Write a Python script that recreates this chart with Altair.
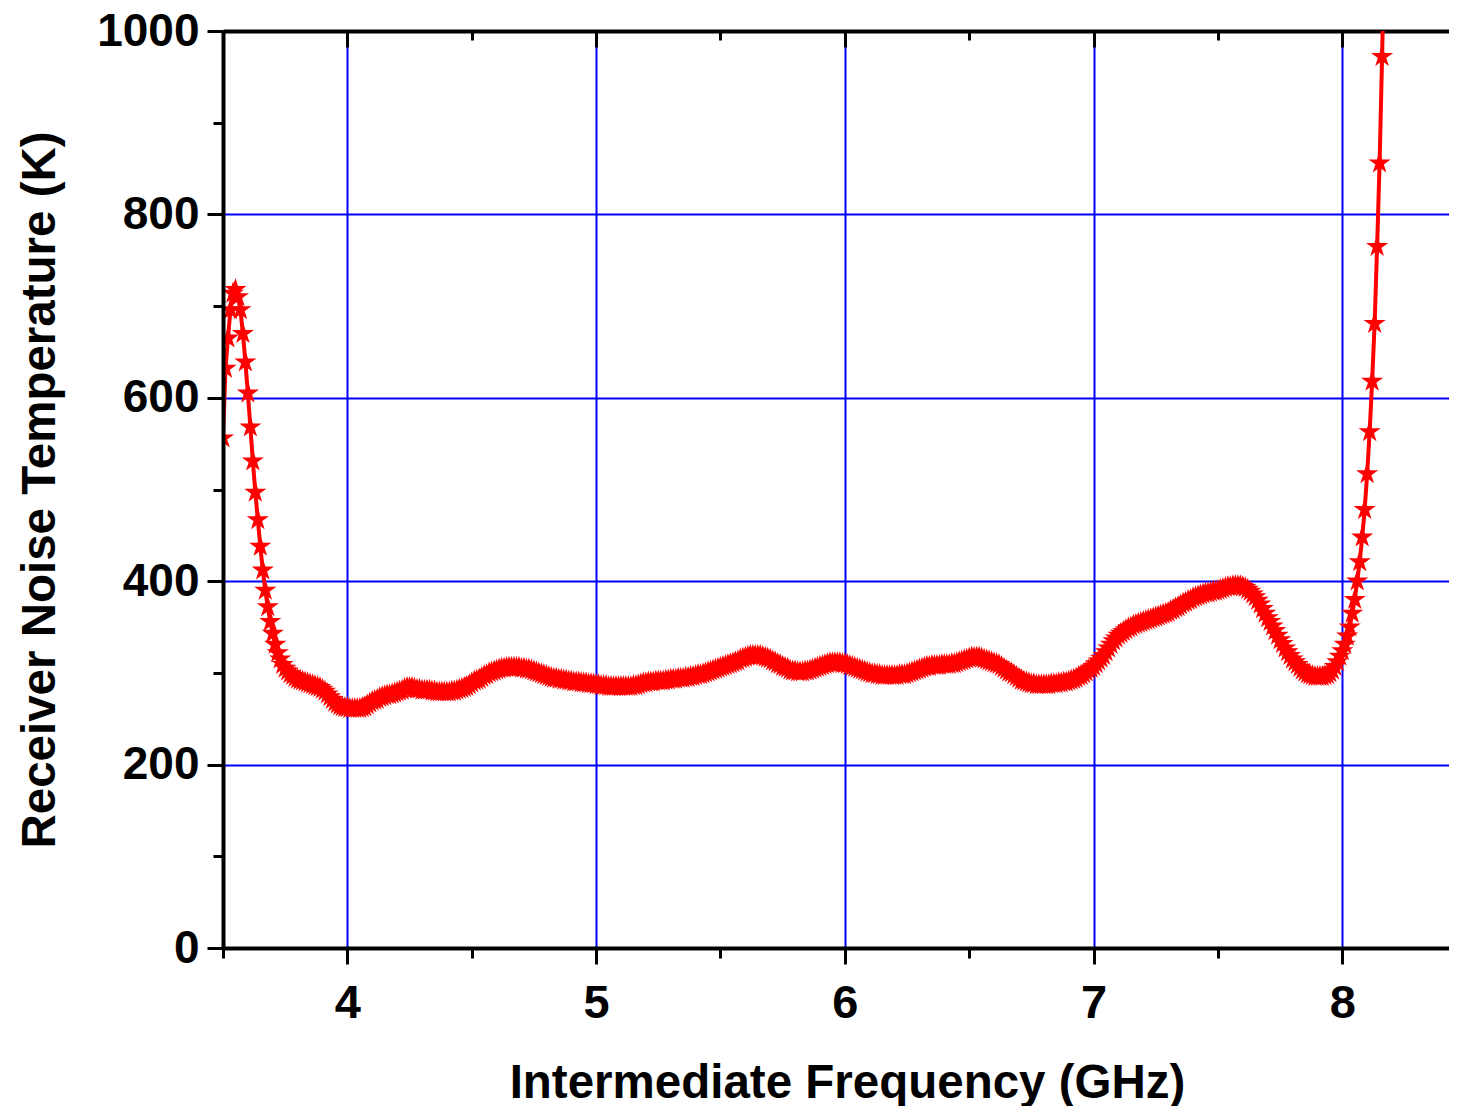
import altair as alt
import pandas as pd

# Sampling grid of the measurement (GHz)
F_START = 3.50
F_STEP = 0.01

# Receiver noise temperature (K), one value per 0.01 GHz
T_350 = [556, 632, 665, 696, 714, 718, 710, 696, 670, 639,
         605, 568, 531, 497, 467, 438, 412, 390, 372, 356,
         343, 331, 322, 315, 309, 305, 302, 299, 297, 295,
         293, 292, 291, 290, 289, 288, 287, 286, 285, 284,
         282, 280, 277, 274, 271, 268, 266, 264, 263, 262]
T_400 = [262, 261, 261, 261, 261, 261, 262, 263, 265, 267,
         269, 270, 271, 273, 274, 275, 276, 276, 277, 278,
         279, 280, 281, 283, 284, 284, 284, 283, 282, 282,
         281, 281, 281, 281, 280, 280, 279, 279, 279, 279,
         279, 279, 280, 280, 281, 282, 283, 284, 285, 287]
T_450 = [289, 291, 292, 293, 295, 297, 298, 300, 301, 302,
         303, 304, 305, 305, 306, 306, 306, 306, 306, 306,
         305, 305, 304, 304, 303, 302, 301, 300, 299, 298,
         297, 296, 295, 294, 294, 293, 293, 292, 292, 291,
         291, 290, 290, 290, 289, 289, 289, 288, 288, 288]
T_500 = [287, 287, 286, 286, 286, 285, 285, 285, 285, 285,
         285, 285, 285, 285, 285, 286, 286, 287, 288, 289,
         289, 290, 290, 290, 291, 291, 291, 291, 292, 292,
         293, 293, 293, 294, 294, 294, 295, 295, 296, 296,
         297, 298, 298, 299, 300, 301, 302, 303, 304, 305]
T_550 = [306, 307, 308, 309, 310, 311, 312, 313, 315, 316,
         317, 318, 319, 319, 319, 319, 319, 318, 317, 316,
         315, 313, 312, 310, 309, 307, 306, 305, 303, 302,
         302, 301, 301, 301, 302, 302, 303, 304, 305, 306,
         307, 308, 309, 310, 311, 311, 311, 311, 311, 310]
T_600 = [310, 309, 308, 307, 306, 305, 304, 303, 302, 301,
         300, 299, 299, 298, 298, 297, 297, 297, 297, 297,
         297, 297, 298, 298, 298, 299, 300, 301, 302, 303,
         304, 305, 306, 307, 307, 308, 308, 308, 308, 309,
         309, 309, 309, 310, 310, 311, 312, 313, 314, 315]
T_650 = [316, 317, 317, 317, 317, 316, 315, 314, 313, 312,
         311, 310, 309, 307, 305, 303, 301, 300, 298, 296,
         294, 292, 291, 290, 289, 288, 288, 287, 287, 287,
         287, 287, 287, 288, 288, 288, 289, 289, 290, 290,
         291, 292, 293, 294, 296, 297, 299, 301, 303, 305]
T_700 = [307, 310, 313, 316, 319, 323, 327, 331, 335, 338,
         341, 343, 345, 347, 349, 350, 352, 353, 354, 355,
         356, 357, 358, 359, 360, 361, 362, 363, 364, 365,
         366, 368, 369, 371, 372, 374, 376, 377, 379, 380,
         382, 383, 384, 385, 386, 387, 387, 388, 389, 389]
T_750 = [390, 391, 392, 393, 394, 394, 395, 395, 395, 395,
         394, 393, 391, 389, 386, 383, 379, 375, 370, 365,
         360, 356, 351, 346, 341, 336, 332, 327, 323, 319,
         315, 312, 309, 306, 303, 301, 299, 298, 297, 296,
         296, 296, 296, 297, 298, 300, 303, 307, 312, 318]
T_800 = [324, 331, 340, 350, 365, 380, 400, 421, 448, 478,
         517, 563, 618, 681, 765, 856, 972, 1100]

temps = T_350 + T_400 + T_450 + T_500 + T_550 + T_600 + T_650 + T_700 + T_750 + T_800
freq = [round(F_START + F_STEP * i, 2) for i in range(len(temps))]
df = pd.DataFrame({"f": freq, "T": temps})

X_DOMAIN = [3.5, 8.429]
Y_DOMAIN = [0, 1000]
MAJOR_X = [4, 5, 6, 7, 8]
MINOR_X = [3.5, 4.5, 5.5, 6.5, 7.5]
MAJOR_Y = [0, 200, 400, 600, 800, 1000]
GRID_Y = [200, 400, 600, 800]
MINOR_Y = [100, 300, 500, 700, 900]

X_TITLE = "Intermediate Frequency (GHz)"
Y_TITLE = "Receiver Noise Temperature (K)"

FONT = "Liberation Sans"
RED = "#FF0000"
BLUE = "#0000FF"

xs = alt.Scale(domain=X_DOMAIN, nice=False, zero=False)
ys = alt.Scale(domain=Y_DOMAIN, nice=False, zero=False)

STAR = ("M0,-1L0.2245,-0.309L0.951,-0.309L0.363,0.118L0.588,0.809L0,0.382"
        "L-0.588,0.809L-0.363,0.118L-0.951,-0.309L-0.2245,-0.309Z")


def blank_axis(**kw):
    base = dict(labels=False, ticks=False, domain=False, grid=False, title=None)
    base.update(kw)
    return alt.Axis(**base)


def guide_layer(xaxis, yaxis):
    return alt.Chart(df).mark_point(opacity=0).encode(
        x=alt.X("f:Q", scale=xs, axis=xaxis),
        y=alt.Y("T:Q", scale=ys, axis=yaxis),
    )


grid_layer = guide_layer(
    blank_axis(orient="top", values=MAJOR_X, grid=True, gridColor=BLUE, gridWidth=2,
               gridOpacity=1, domain=True, domainColor="black", domainWidth=4, zindex=0),
    blank_axis(orient="left", values=GRID_Y, grid=True, gridColor=BLUE, gridWidth=2,
               gridOpacity=1, zindex=0),
)

major_layer = guide_layer(
    alt.Axis(orient="bottom", values=MAJOR_X, format="d", grid=False,
             domain=True, domainColor="black", domainWidth=4,
             ticks=True, tickColor="black", tickWidth=3, tickSize=16,
             labels=True, labelFont=FONT, labelFontSize=47, labelFontWeight="bold",
             labelColor="black", labelPadding=16, labelFlush=False, labelOverlap=False,
             title=X_TITLE, titleFont=FONT, titleFontSize=47.5, titleFontWeight="bold",
             titleColor="black", titleX=624, titleY=149, titleBaseline="alphabetic",
             titleAlign="center", zindex=1),
    alt.Axis(orient="left", values=MAJOR_Y, format="d", grid=False,
             domain=True, domainColor="black", domainWidth=4,
             ticks=True, tickColor="black", tickWidth=3, tickSize=16,
             labels=True, labelFont=FONT, labelFontSize=46, labelFontWeight="bold",
             labelColor="black", labelPadding=8, labelFlush=False, labelOverlap=False,
             title=Y_TITLE, titleFont=FONT, titleFontSize=47.5, titleFontWeight="bold",
             titleColor="black", titleX=-169, titleBaseline="alphabetic",
             titleAlign="center", titleAngle=270, zindex=1),
)

minor_layer = guide_layer(
    blank_axis(orient="bottom", values=MINOR_X, ticks=True, tickColor="black",
               tickWidth=3, tickSize=10, zindex=1),
    blank_axis(orient="left", values=MINOR_Y, ticks=True, tickColor="black",
               tickWidth=3, tickSize=10, zindex=1),
)

top_major = guide_layer(
    blank_axis(orient="top", values=MAJOR_X, offset=-16, ticks=True, tickColor="black",
               tickWidth=3, tickSize=16, zindex=1),
    None,
)
top_minor = guide_layer(
    blank_axis(orient="top", values=MINOR_X, offset=-9, ticks=True, tickColor="black",
               tickWidth=3, tickSize=9, zindex=1),
    None,
)

line = alt.Chart(df).mark_line(color=RED, strokeWidth=4, clip=True).encode(
    x=alt.X("f:Q", scale=xs, axis=None),
    y=alt.Y("T:Q", scale=ys, axis=None),
)
stars = alt.Chart(df).mark_point(shape=STAR, filled=True, fill=RED, stroke=RED,
                                 strokeWidth=1.5, size=340, opacity=1,
                                 clip=True).encode(
    x=alt.X("f:Q", scale=xs, axis=None),
    y=alt.Y("T:Q", scale=ys, axis=None),
)

chart = alt.layer(
    grid_layer, line, stars, major_layer, minor_layer, top_major, top_minor
).resolve_axis(
    x="independent", y="independent"
).properties(
    width=1226, height=917,
    autosize=alt.AutoSizeParams(type="none"),
    padding={"left": 215, "top": 23, "right": 0, "bottom": 158},
).configure_view(stroke=None).configure(background="white")

chart.save("out.html", embed_options={"renderer": "svg", "actions": False})
